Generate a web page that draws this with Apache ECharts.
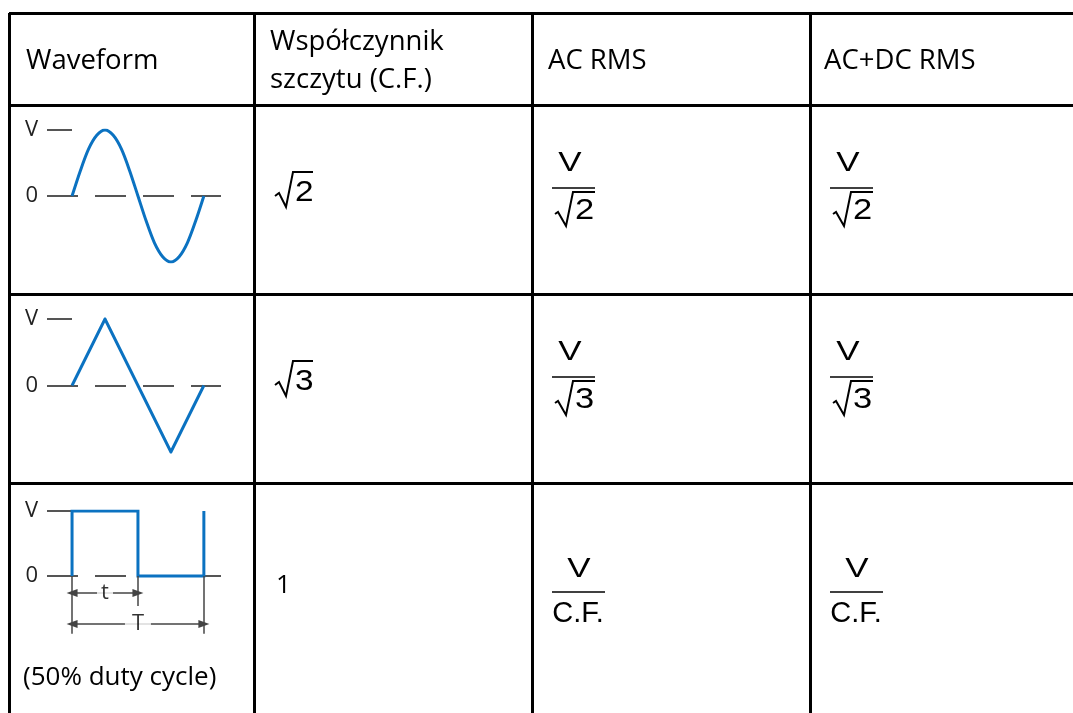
<!DOCTYPE html>
<html><head><meta charset="utf-8">
<script src="https://cdn.jsdelivr.net/npm/echarts@6/dist/echarts.min.js"></script>
<style>html,body{margin:0;padding:0;background:#fff}#c{width:1073px;height:713px}</style>
</head><body><div id="c"></div>
<script>
// ---------- data ----------
const headers = ['Waveform', 'Współczynnik\nszczytu (C.F.)', 'AC RMS', 'AC+DC RMS'];
const crestRadicands = ['2', '3', null];   // C.F. = sqrt(2), sqrt(3), 1
const crestPlain = [null, null, '1'];
const rmsNumerator = 'V';
const rmsRadicands = ['2', '3', null];     // V/sqrt(2), V/sqrt(3), V/C.F.
const rmsPlainDen = [null, null, 'C.F.'];
const levelLabels = ['0', 'V'];            // y tick labels at 0 and 1
const sinePoints = [[0,0],[0.0625,0.38],[0.125,0.71],[0.1875,0.92],[0.25,1],[0.3125,0.92],[0.375,0.71],[0.4375,0.38],[0.5,0],
  [0.5625,-0.38],[0.625,-0.71],[0.6875,-0.92],[0.75,-1],[0.8125,-0.92],[0.875,-0.71],[0.9375,-0.38],[1,0]];
const trianglePoints = [[0,0],[0.25,1],[0.75,-1],[1,0]];
const squarePoints = [[0,0],[0,1],[0.5,1],[0.5,0],[1,0],[1,1]];
const dutyT = 0.5;   // t
const periodT = 1;   // T
const dimLabels = ['t', 'T'];
const footnote = '(50% duty cycle)';

// ---------- layout ----------
const C = [9, 254, 532, 810];
const R = [13, 105, 294, 483];
const W = 1073, H = 713;
const BLUE = '#0b72c1', GREY = '#555555';
const TXT = '"Open Sans", sans-serif';
const MATH = '"Liberation Sans", Arial, sans-serif';

const g = [];
function hline(y, x1, x2, w, col) { g.push({type:'line', shape:{x1, y1:y, x2, y2:y}, style:{stroke:col||'#000', lineWidth:w||3}, silent:true}); }
function vline(x, y1, y2, w, col) { g.push({type:'line', shape:{x1:x, y1, x2:x, y2}, style:{stroke:col||'#000', lineWidth:w||3}, silent:true}); }
function text(x, y, t, size, fam, align, lh, sx) {
  g.push({type:'text', x, y, scaleX: sx || 1, silent:true, style:{text:t, fill:'#000', fontSize:size, fontFamily:fam,
    textAlign:align||'left', align:align||'left', textVerticalAlign:'middle', verticalAlign:'middle', lineHeight:lh}});
}
function radical(ox, oy, pts) {
  g.push({type:'polyline', silent:true, shape:{points: pts.map(p => [ox + p[0], oy + p[1]])},
    style:{stroke:'#000', lineWidth:2, fill:null, lineJoin:'miter'}});
}

// table lines
[R[0], R[1], R[2], R[3]].forEach(y => hline(y + 0.5, C[0], W));
C.forEach(x => vline(x + 0.5, R[0], H));

// headers
text(C[0] + 17, 61, headers[0], 27.5, TXT);
text(C[1] + 16, 61, headers[1], 27.5, TXT, 'left', 38);
text(C[2] + 16, 61, headers[2], 27.5, TXT);
text(C[3] + 14, 61, headers[3], 27.5, TXT);

// crest factor and RMS columns
for (let r = 0; r < 3; r++) {
  const top = R[r + 1];
  if (crestRadicands[r]) {
    radical(C[1], top, [[21,91],[25,88],[32,102],[39,67],[59,67]]);
    text(C[1] + 41, top + 88, crestRadicands[r], 29, MATH, 'left', null, 1.15);
  } else {
    text(C[1] + 22, top + 103, crestPlain[r], 26, TXT);
  }
  for (const c of [2, 3]) {
    const left = C[c];
    if (rmsRadicands[r]) {
      text(left + 38, top + 58, rmsNumerator, 28, MATH, 'center', null, 1.25);
      hline(top + 83, left + 20, left + 63, 1.5);
      radical(left, top, [[23,109],[26,107],[34,121],[41,87],[63,87]]);
      text(left + 43, top + 106, rmsRadicands[r], 30, MATH, 'left', null, 1.15);
    } else {
      text(left + 47, top + 86, rmsNumerator, 28, MATH, 'center', null, 1.25);
      hline(top + 109, left + 20, left + 73, 1.5);
      text(left + 46, top + 131, rmsPlainDen[r], 29, MATH, 'center');
    }
  }
}
text(C[0] + 14, 678, footnote, 26, TXT);

// ---------- waveform grids ----------
const gridTops = [130, 319, 511], gridHeights = [132, 133, 130];
const waves = [sinePoints, trianglePoints, squarePoints];
const grid = [], xAxis = [], yAxis = [], series = [];
for (let i = 0; i < 3; i++) {
  grid.push({left:47, top:gridTops[i], width:174, height:gridHeights[i], outerBoundsMode:'none', containLabel:false});
  xAxis.push({gridIndex:i, type:'value', min:-0.19, max:1.13, show:false});
  yAxis.push({gridIndex:i, type:'value', min:-1, max:1, interval:1,
    splitLine:{show:false}, axisLine:{show:false, onZero:false},
    axisTick:{show:true, inside:true, length:25, customValues:[1], lineStyle:{color:GREY, width:2}},
    axisLabel:{show:true, customValues:[0,1], formatter:v => levelLabels[v], margin:9, fontSize:22, fontFamily:TXT, color:'#222'}});
  series.push({type:'line', xAxisIndex:i, yAxisIndex:i, data:[], z:1, silent:true,
    markLine:{silent:true, z:1, symbol:'none', animation:false, label:{show:false},
      lineStyle:{color:GREY, width:2, type:[31,17]}, data:[{yAxis:0}]}});
  series.push({type:'line', xAxisIndex:i, yAxisIndex:i, data:waves[i], showSymbol:false, silent:true,
    smooth: i === 0 ? 0.3 : false, z:2, lineStyle:{color:BLUE, width:3, join:'miter'}});
}
// duty cycle dimensions on the square wave
const arrowEnd = {symbol:'triangle', symbolSize:[8,11]};
series.push({type:'line', xAxisIndex:2, yAxisIndex:2, data:[], z:3, silent:true,
  markLine:{silent:true, z:3, symbol:'none', animation:false, label:{show:false},
    lineStyle:{color:'#444', width:1.5, type:'solid'},
    data:[
      [{coord:[0,0]},{coord:[0,-0.89]}],
      [{coord:[dutyT,0]},{coord:[dutyT,-0.46]}],
      [{coord:[periodT,0]},{coord:[periodT,-0.89]}],
      [Object.assign({coord:[0,-0.26]}, arrowEnd), Object.assign({coord:[dutyT,-0.26]}, arrowEnd)],
      [Object.assign({coord:[0,-0.74]}, arrowEnd), Object.assign({coord:[periodT,-0.74]}, arrowEnd)]
    ]}});
series.push({type:'scatter', xAxisIndex:2, yAxisIndex:2, z:8, silent:true, symbol:'rect',
  itemStyle:{color:'#ffffff'},
  label:{show:true, position:'inside', formatter:'{b}', color:'#000', fontSize:22, fontFamily:TXT},
  labelLayout:{hideOverlap:false},
  data:[{name:dimLabels[0], value:[dutyT/2,-0.26], symbolSize:[16,16]},
        {name:dimLabels[1], value:[periodT/2,-0.74], symbolSize:[26,16]}]});

const chart = echarts.init(document.getElementById('c'), null, {renderer:'canvas'});
chart.setOption({animation:false, backgroundColor:'#fff', grid, xAxis, yAxis, series, graphic:{elements:g}});
</script></body></html>
